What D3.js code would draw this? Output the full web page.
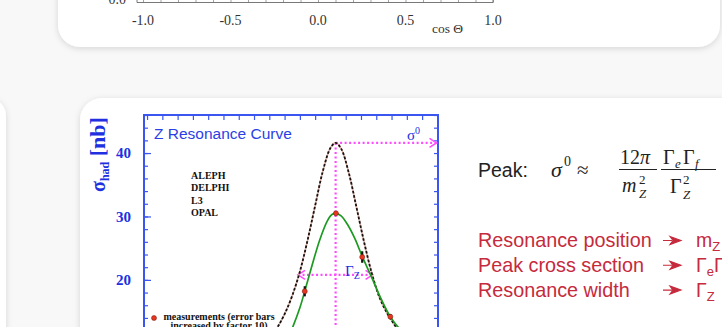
<!DOCTYPE html>
<html>
<head>
<meta charset="utf-8">
<script src="https://cdn.jsdelivr.net/npm/d3@7"></script>
<style>
  html, body { margin: 0; padding: 0; background: #f8f8f8; overflow: hidden; }
  svg { display: block; }
</style>
</head>
<body>
<svg id="slide" width="722" height="327"></svg>
<script>
// ---- data ----
// upper (cut off) plot: cos theta axis
var cosTicks = [-1.0, -0.5, 0.0, 0.5, 1.0];

// Z resonance: E_cm [GeV] vs sigma_had [nb]
var energyTicks = d3.range(85, 94.51, 0.5);
var sigmaTicks = d3.range(0, 46.1, 2);
var sigmaLabels = [10, 20, 30, 40];

// QED unfolded curve (dashed)
var dashE = [88.5, 88.75, 89.0, 89.25, 89.5, 89.75, 90.0, 90.25, 90.5, 90.75, 91.0, 91.17,
             91.35, 91.6, 91.85, 92.1, 92.35, 92.6, 92.85, 93.1, 93.35, 93.6, 93.85];
var dashSigma = [8.6, 9.6, 10.8, 12.4, 14.6, 17.5, 21.3, 26.2, 31.7, 37.1, 40.8, 41.6,
                 40.7, 36.9, 31.5, 26.0, 21.1, 17.3, 14.8, 12.9, 11.2, 9.8, 8.8];

// fitted curve with radiation (green)
var fitE = [89.25, 89.5, 89.77, 90.0, 90.16, 90.4, 90.65, 90.9, 91.05, 91.18, 91.35, 91.55,
            91.8, 92.04, 92.35, 92.65, 92.96, 93.26, 93.6, 94.0, 94.5];
var fitSigma = [7.4, 9.6, 12.6, 15.6, 18.2, 22.3, 26.3, 29.3, 30.3, 30.5, 30.1, 28.8,
                26.5, 23.7, 20.4, 17.1, 14.2, 12.3, 10.8, 9.5, 8.4];

// measurements (error bars x10)
var measE = [90.16, 91.18, 92.04, 92.96];
var measSigma = [18.2, 30.5, 23.6, 14.2];
var measErr = [0.8, 0.25, 0.9, 0.4];

// annotations
var peakE = 91.17, peakSigma = 41.6;
var widthE = [89.94, 92.38], halfSigma = 20.8;
var experiments = ["ALEPH", "DELPHI", "L3", "OPAL"];
var summary = ["Resonance position", "Peak cross section", "Resonance width"];

var svg = d3.select("#slide");
var blue = "#3a55f0", magenta = "#ff4cff", red = "#c62a3d";

// shadows for the slide cards
var defs = svg.append("defs");
var f = defs.append("filter").attr("id", "shadow")
  .attr("x", "-10%").attr("y", "-20%").attr("width", "120%").attr("height", "140%");
f.append("feDropShadow").attr("dx", 0).attr("dy", 1.5).attr("stdDeviation", 3)
  .attr("flood-color", "#000").attr("flood-opacity", 0.14);

svg.append("rect").attr("x", 58).attr("y", -40).attr("width", 662).attr("height", 87)
  .attr("rx", 22).attr("fill", "#fff").attr("filter", "url(#shadow)");
svg.append("rect").attr("x", -100).attr("y", 98).attr("width", 106).attr("height", 300)
  .attr("rx", 18).attr("fill", "#fff").attr("filter", "url(#shadow)");
svg.append("rect").attr("x", 80).attr("y", 98).attr("width", 720).attr("height", 300)
  .attr("rx", 22).attr("fill", "#fff").attr("filter", "url(#shadow)");

// ---- upper plot remains: bottom axis only ----
var xc = d3.scaleLinear().domain([-1, 1]).range([143, 493]);
var upper = svg.append("g");
upper.append("path").attr("d", "M137,-5V2.5H493V-5")
  .attr("fill", "none").attr("stroke", "#555").attr("stroke-width", 0.8);
upper.append("g").attr("transform", "translate(0,2.5)")
  .call(d3.axisBottom(xc).tickValues(d3.range(-1, 1.01, 0.1)).tickSize(-4).tickFormat(""))
  .call(function(g) { g.select(".domain").remove(); g.selectAll("line").attr("stroke", "#666").attr("stroke-width", 0.6); });
upper.selectAll(".clab").data(cosTicks).enter().append("text")
  .attr("x", function(d) { return xc(d); }).attr("y", 25)
  .attr("text-anchor", "middle")
  .style("font", "14px 'Liberation Serif', serif").attr("fill", "#333")
  .text(function(d) { return d3.format(".1f")(d).replace("\u2212", "-"); });
upper.append("text").attr("x", 126).attr("y", 4).attr("text-anchor", "end")
  .style("font", "14px 'Liberation Serif', serif").attr("fill", "#333").text("0.0");
upper.append("text").attr("x", 432).attr("y", 33)
  .style("font", "13.5px 'Liberation Serif', serif").attr("fill", "#333").text("cos \u0398");

// ---- Z resonance plot ----
var x = d3.scaleLinear().domain([84.9, 94.52]).range([144, 438]);
var y = d3.scaleLinear().domain([0, 46]).range([406.7, 115]);

var plot = svg.append("g");
defs.append("clipPath").attr("id", "frameclip").append("rect")
  .attr("x", x.range()[0]).attr("y", y(46)).attr("width", x.range()[1] - x.range()[0]).attr("height", y(0) - y(46));

// ticks, all pointing inwards
function blueAxis(g) {
  g.select(".domain").remove();
  g.selectAll("line").attr("stroke", blue).attr("stroke-width", 1.2);
}
plot.append("g").attr("transform", "translate(0," + y(46) + ")")
  .call(d3.axisTop(x).tickValues(energyTicks).tickSize(-5).tickFormat(""))
  .call(blueAxis);
plot.append("g").attr("transform", "translate(" + x(84.9) + ",0)")
  .call(d3.axisLeft(y).tickValues(sigmaTicks).tickSize(-4).tickFormat(""))
  .call(blueAxis);
plot.append("g").attr("transform", "translate(" + x(94.52) + ",0)")
  .call(d3.axisRight(y).tickValues(sigmaTicks).tickSize(-4).tickFormat(""))
  .call(blueAxis);
plot.append("g").attr("transform", "translate(" + x(84.9) + ",0)")
  .call(d3.axisLeft(y).tickValues(sigmaLabels).tickSize(-7).tickPadding(13).tickFormat(d3.format("d")))
  .call(blueAxis)
  .call(function(g) {
    g.selectAll("text").attr("fill", "#2030e0")
      .style("font", "bold 15px 'Liberation Serif', serif");
  });

plot.append("rect").attr("x", x(84.9)).attr("y", y(46))
  .attr("width", x(94.52) - x(84.9)).attr("height", y(0) - y(46))
  .attr("fill", "none").attr("stroke", blue).attr("stroke-width", 2);

// axis title
var yt = plot.append("text").attr("transform", "translate(105,192) rotate(-90)")
  .attr("fill", "#2030e0").style("font-family", "'Liberation Serif', serif").style("font-weight", "bold");
yt.append("tspan").style("font-size", "20px").text("\u03c3");
yt.append("tspan").style("font-size", "12px").attr("dy", 4).text("had");
yt.append("tspan").style("font-size", "22px").attr("dy", -4).text(" [nb]");

plot.append("text").attr("x", 154).attr("y", 138.5).attr("fill", "#2b3fe6")
  .style("font", "15.5px 'Liberation Sans', Arial, sans-serif").text("Z Resonance Curve");

plot.selectAll(".exp").data(experiments).enter().append("text")
  .attr("x", 191).attr("y", function(d, i) { return 178.5 + i * 12.6; })
  .style("font", "bold 10px 'Liberation Serif', serif").attr("fill", "#111")
  .text(function(d) { return d; });

var inner = plot.append("g").attr("clip-path", "url(#frameclip)");

// magenta guides
inner.append("line").attr("x1", x(peakE)).attr("x2", x(peakE))
  .attr("y1", y(peakSigma)).attr("y2", y(0))
  .attr("stroke", magenta).attr("stroke-width", 2.2).attr("stroke-dasharray", "2,2.5");
inner.append("line").attr("x1", x(peakE)).attr("x2", x(94.52) - 1)
  .attr("y1", y(peakSigma)).attr("y2", y(peakSigma))
  .attr("stroke", magenta).attr("stroke-width", 2.2).attr("stroke-dasharray", "2,2.5");
inner.append("line").attr("x1", x(widthE[0])).attr("x2", x(widthE[1]))
  .attr("y1", y(halfSigma)).attr("y2", y(halfSigma))
  .attr("stroke", magenta).attr("stroke-width", 2.2).attr("stroke-dasharray", "2,2.5");

function chevron(px, py, dir) {
  inner.append("path")
    .attr("d", "M" + (px - dir * 7) + "," + (py - 4.5) + "L" + px + "," + py + "L" + (px - dir * 7) + "," + (py + 4.5))
    .attr("fill", "none").attr("stroke", magenta).attr("stroke-width", 1.6);
}
chevron(x(94.52) - 1.5, y(peakSigma), 1);
chevron(x(widthE[0]), y(halfSigma), -1);
chevron(x(widthE[1]), y(halfSigma), 1);

var line = d3.line().x(function(d) { return x(d[0]); }).y(function(d) { return y(d[1]); })
  .curve(d3.curveCatmullRom.alpha(0.5));

var dashPts = dashE.map(function(e, i) { return [e, dashSigma[i]]; });
var fitPts = fitE.map(function(e, i) { return [e, fitSigma[i]]; });

inner.append("path").attr("d", line(dashPts)).attr("fill", "none")
  .attr("stroke", "#d9b0a8").attr("stroke-width", 1.6);
inner.append("path").attr("d", line(dashPts)).attr("fill", "none")
  .attr("stroke", "#1b1210").attr("stroke-width", 1.8).attr("stroke-dasharray", "2.6,1.8");
inner.append("path").attr("d", line(fitPts)).attr("fill", "none")
  .attr("stroke", "#1d9a22").attr("stroke-width", 1.7);

// measurements
measE.forEach(function(e, i) {
  inner.append("line").attr("x1", x(e)).attr("x2", x(e))
    .attr("y1", y(measSigma[i] - measErr[i])).attr("y2", y(measSigma[i] + measErr[i]))
    .attr("stroke", "#111").attr("stroke-width", 2.2);
  inner.append("circle").attr("cx", x(e)).attr("cy", y(measSigma[i])).attr("r", 2.5)
    .attr("fill", "#e8361f").attr("stroke", "#6a1a10").attr("stroke-width", 0.5);
});

// labels on the guides
var sl = plot.append("text").attr("x", 407).attr("y", 139.5).attr("fill", "#2030e0")
  .style("font-family", "'Liberation Serif', serif");
sl.append("tspan").style("font-size", "15px").text("\u03c3");
sl.append("tspan").style("font-size", "10px").attr("dy", -6).text("0");

var gl = plot.append("text").attr("x", 345).attr("y", 275.5).attr("fill", "#2030e0")
  .style("font-family", "'Liberation Serif', serif");
gl.append("tspan").style("font-size", "15px").text("\u0393");
gl.append("tspan").style("font-size", "10px").attr("dy", 3).text("Z");

// legend
plot.append("circle").attr("cx", 154).attr("cy", 318).attr("r", 2.5)
  .attr("fill", "#e8361f").attr("stroke", "#6a1a10").attr("stroke-width", 0.5);
plot.append("text").attr("x", 219).attr("y", 319.5).attr("text-anchor", "middle")
  .style("font", "bold 10px 'Liberation Serif', serif").attr("fill", "#111")
  .text("measurements (error bars");
plot.append("text").attr("x", 219).attr("y", 329).attr("text-anchor", "middle")
  .style("font", "bold 10px 'Liberation Serif', serif").attr("fill", "#111")
  .text("increased by factor 10)");

// ---- right hand text ----
var txt = svg.append("g").attr("fill", "#222");
txt.append("text").attr("x", 478).attr("y", 177)
  .style("font", "19.5px 'Liberation Sans', Arial, sans-serif").text("Peak:");

var mathFont = "'Liberation Serif', 'DejaVu Serif', serif";
function m(xp, yp, size, str, italic) {
  return txt.append("text").attr("x", xp).attr("y", yp)
    .style("font-family", mathFont).style("font-size", size + "px")
    .style("font-style", italic ? "italic" : "normal").text(str);
}
m(551, 177, 22, "\u03c3", true);
m(564, 166, 14, "0", false);
m(577, 177, 21, "\u2248", false);
m(620, 164, 20, "12", false);
m(640, 164, 20, "\u03c0", true);
txt.append("line").attr("x1", 619).attr("x2", 657).attr("y1", 169.5).attr("y2", 169.5)
  .attr("stroke", "#222").attr("stroke-width", 1);
m(622, 192, 20, "m", true);
m(639, 184, 13, "2", false);
m(639, 198, 13, "Z", true);
m(663, 164, 20, "\u0393", false);
m(675, 168, 13, "e", true);
m(683, 164, 20, "\u0393", false);
m(695, 168, 13, "f", true);
txt.append("line").attr("x1", 661).attr("x2", 716).attr("y1", 169.5).attr("y2", 169.5)
  .attr("stroke", "#222").attr("stroke-width", 1);
m(670, 193, 20, "\u0393", false);
m(683, 184, 13, "2", false);
m(683, 199, 13, "Z", true);

// red summary lines with arrows
var redG = svg.append("g").attr("fill", red);
var sans = "'Liberation Sans', Arial, sans-serif";
summary.forEach(function(s, i) {
  var by = 247 + i * 24.8;
  redG.append("text").attr("x", 478).attr("y", by)
    .style("font", "19.8px " + sans).text(s);
  var ay = by - 6.5;
  redG.append("path")
    .attr("d", "M663," + ay + "H672M670," + (ay - 4) + "L681," + ay + "L670," + (ay + 4) + "L673," + ay + "Z")
    .attr("stroke", red).attr("stroke-width", 1.1);
});
function redMath(yb, parts) {
  var t = redG.append("text").attr("x", 696).attr("y", yb).style("font-family", sans);
  parts.forEach(function(p) {
    t.append("tspan").style("font-size", p[1] + "px").attr("dy", p[2]).text(p[0]);
  });
}
redMath(247, [["m", 19.5, 0], ["Z", 13, 4]]);
redMath(271.8, [["\u0393", 19.5, 0], ["e", 13, 4], ["\u0393", 19.5, -4], ["f", 13, 4]]);
redMath(296.6, [["\u0393", 19.5, 0], ["Z", 13, 4]]);
</script>
</body>
</html>
